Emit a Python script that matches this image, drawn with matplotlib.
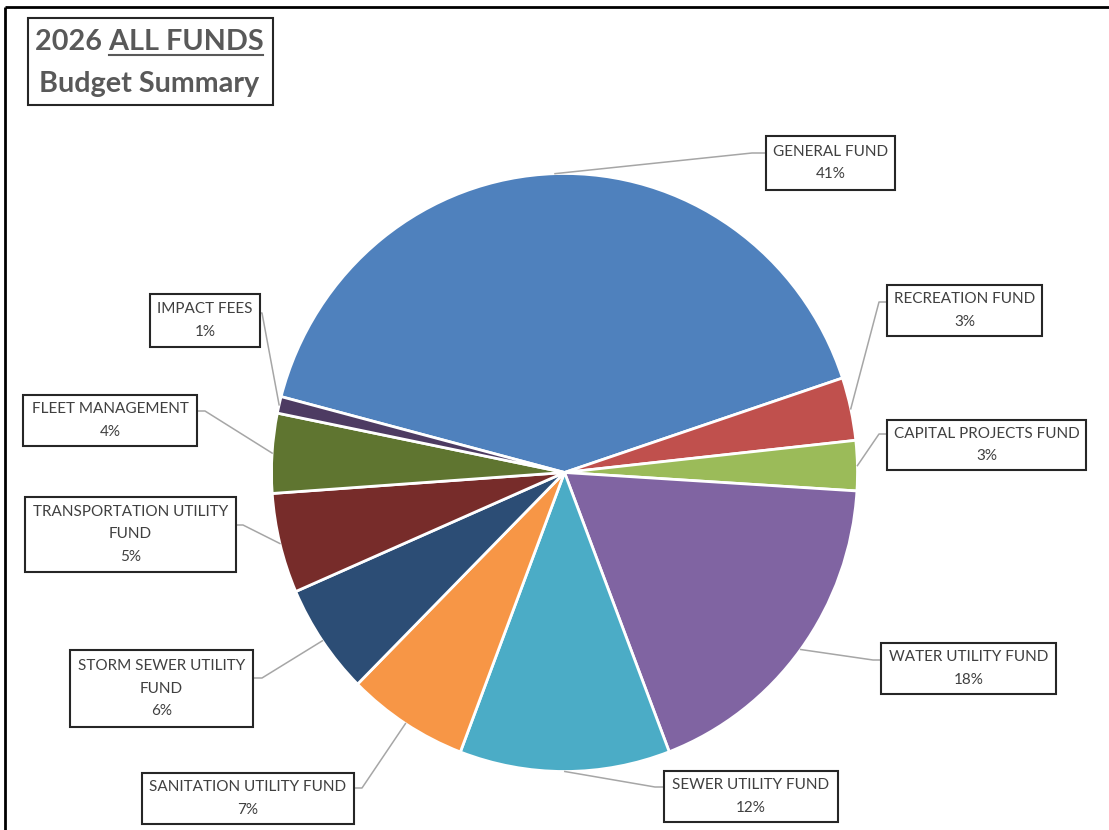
import numpy as np
import matplotlib
matplotlib.use("Agg")
import matplotlib.pyplot as plt
from matplotlib.patches import Rectangle

plt.rcParams['font.family'] = ['Lato', 'DejaVu Sans']

# data
funds = ["GENERAL FUND", "RECREATION FUND", "CAPITAL PROJECTS FUND",
         "WATER UTILITY FUND", "SEWER UTILITY FUND", "SANITATION UTILITY FUND",
         "STORM SEWER UTILITY\nFUND", "TRANSPORTATION UTILITY\nFUND",
         "FLEET MANAGEMENT", "IMPACT FEES"]
shares = [40.8, 3.4, 2.7, 18.2, 11.6, 6.7, 6.0, 5.4, 4.3, 0.9]
pct_labels = ["41%", "3%", "3%", "18%", "12%", "7%", "6%", "5%", "4%", "1%"]
colors = ["#4F81BD", "#C0504D", "#9BBB59", "#8064A2", "#4BACC6",
          "#F79646", "#2C4D75", "#772C2A", "#5F7530", "#4D3B62"]

W, H = 1109, 830

def Y(y):
    return H - y

# label boxes (left, top, right, bottom) in pixels from top-left
boxes = [(766, 136, 895, 190), (887, 285, 1042, 336), (887, 420, 1086, 470),
         (881, 643, 1056, 694), (664, 771, 838, 822), (142, 773, 354, 824),
         (70, 650, 253, 727), (25, 497, 236, 572), (23, 395, 197, 446),
         (150, 294, 260, 347)]
# leader knee and end points
knees = [(752, 153), (879, 302), (879, 434), (873, 660), (655, 787),
         (362, 788), (262, 678), (243, 525), (205, 411), (262, 313)]
ends = [(766, 153), (887, 302), (887, 434), (881, 660), (664, 787),
        (354, 788), (253, 678), (236, 525), (197, 411), (260, 313)]

fig = plt.figure(figsize=(W / 100, H / 100), dpi=100)
ax = fig.add_axes([0, 0, 1, 1])
ax.set_xlim(0, W)
ax.set_ylim(0, H)
ax.axis('off')

# pie in its own axes (slightly taller than wide, like the source)
cx, cy = 564.5, Y(472.5)
rx, ry = 293, 299
pax = fig.add_axes([(cx - rx) / W, (cy - ry) / H, 2 * rx / W, 2 * ry / H])
wedges, _ = pax.pie(shares, colors=colors, startangle=165.3, counterclock=False,
                    radius=1, frame=True,
                    wedgeprops=dict(edgecolor='white', linewidth=2))
pax.set_aspect('auto')
pax.set_xlim(-1, 1)
pax.set_ylim(-1, 1)
pax.axis('off')

ax2 = fig.add_axes([0, 0, 1, 1])
ax2.set_xlim(0, W)
ax2.set_ylim(0, H)
ax2.axis('off')

for w, name, pct, box, kn, en in zip(wedges, funds, pct_labels, boxes, knees, ends):
    mid = np.deg2rad((w.theta1 + w.theta2) / 2)
    px = cx + rx * np.cos(mid)
    py = cy + ry * np.sin(mid)
    ax2.plot([px, kn[0], en[0]], [py, Y(kn[1]), Y(en[1])], color='#A6A6A6', lw=1.1, zorder=3)
    l, t, rr, b = box
    ax2.add_patch(Rectangle((l, Y(b)), rr - l, b - t, facecolor='white',
                            edgecolor='#262626', lw=1.5, zorder=4))
    ax2.text((l + rr) / 2, Y((t + b) / 2), name + "\n" + pct, ha='center', va='center',
             fontsize=11, color='#404040', linespacing=1.8, zorder=5)

# title box
ax2.add_patch(Rectangle((28, Y(105)), 245, 87, facecolor='white',
                        edgecolor='#262626', lw=1.5, zorder=4))
t1 = ax2.text(149, Y(50), "2026 ALL FUNDS", ha='center', va='baseline',
              fontsize=20.7, fontweight='bold', color='#595959', zorder=5)
ax2.text(149, Y(92), "Budget Summary", ha='center', va='baseline',
         fontsize=20.7, fontweight='bold', color='#595959', zorder=5)

# underline "ALL FUNDS"
renderer = fig.canvas.get_renderer()
bb = t1.get_window_extent(renderer)
tmp = ax2.text(0, 0, "ALL FUNDS", fontsize=20.7, fontweight='bold')
wpart = tmp.get_window_extent(renderer).width
tmp.remove()
ax2.plot([bb.x1 - wpart, bb.x1], [Y(55), Y(55)], color='#595959', lw=1.5, zorder=5)

# outer frame (top and left edges)
ax2.plot([5, W], [Y(7), Y(7)], color='black', lw=2, zorder=6, solid_capstyle='butt')
ax2.plot([5, 5], [Y(7), 0], color='black', lw=2, zorder=6, solid_capstyle='butt')

fig.savefig("out.png", dpi=100, facecolor='white')
